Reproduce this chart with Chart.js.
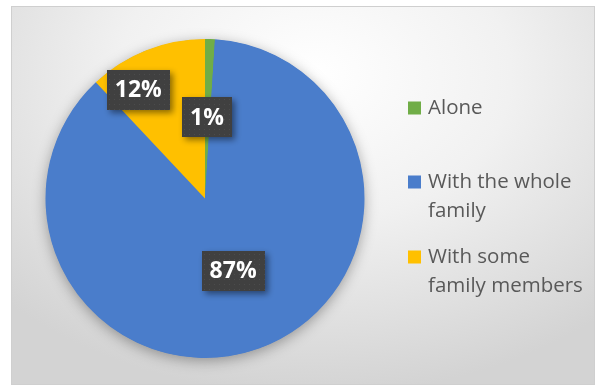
<!DOCTYPE html>
<html>
<head>
<meta charset="utf-8">
<script src="https://cdn.jsdelivr.net/npm/chart.js@4.4.1/dist/chart.umd.min.js"></script>
<style>
    html, body { margin: 0; padding: 0; background: #ffffff; }
    #quadro {
        position: absolute;
        left: 11px;
        top: 6px;
        width: 582px;
        height: 377px;
        border: 1px solid #cfcfcf;
        background: radial-gradient(ellipse 75% 85% at 52% 18%, #ffffff 0%, #f1f1f1 45%, #d3d3d3 100%);
    }
</style>
</head>
<body>
<div id="quadro"><canvas id="grafico"></canvas></div>
<script>
// Categorias (linhas da legenda), percentuais e cores das fatias
const categorias = [['Alone'], ['With the whole', 'family'], ['With some', 'family members']];
const percentuais = [1, 87, 12];
const cores = ['#70AD47', '#4A7DCB', '#FFC000'];

// Onde cada rótulo fica: giro a partir do meio da fatia e fração do raio
const posRotulos = [
    { giro: -0.4 * Math.PI / 180, dist: 0.51 },
    { giro: -1.5 * Math.PI / 180, dist: 0.485 },
    { giro: -9.9 * Math.PI / 180, dist: 0.80 }
];

const fonteLegenda = '20.5px "Open Sans", sans-serif';
const fonteRotulo = 'bold 23px "Open Sans", sans-serif';

// Textura pontilhada das caixas dos rótulos
function criarPadrao(ctx) {
    const tile = document.createElement('canvas');
    tile.width = 5;
    tile.height = 5;
    const t = tile.getContext('2d');
    t.fillStyle = '#404040';
    t.fillRect(0, 0, 5, 5);
    t.fillStyle = '#4c4c4c';
    t.fillRect(2, 2, 1, 1);
    return ctx.createPattern(tile, 'repeat');
}

// Sombra suave por baixo da pizza inteira
const sombraPizza = {
    id: 'sombraPizza',
    beforeDatasetsDraw(chart) {
        const arco = chart.getDatasetMeta(0).data[0];
        if (!arco) return;
        const { x, y, outerRadius } = arco.getProps(['x', 'y', 'outerRadius'], true);
        const ctx = chart.ctx;
        ctx.save();
        ctx.shadowColor = 'rgba(0, 0, 0, 0.35)';
        ctx.shadowBlur = 14;
        ctx.shadowOffsetY = 3;
        ctx.fillStyle = cores[1];
        ctx.beginPath();
        ctx.arc(x, y, outerRadius - 0.5, 0, Math.PI * 2);
        ctx.fill();
        ctx.restore();
    }
};

// Rótulos de porcentagem em caixas escuras
const rotulos = {
    id: 'rotulos',
    afterDatasetsDraw(chart) {
        const ctx = chart.ctx;
        const padrao = criarPadrao(ctx);
        chart.getDatasetMeta(0).data.forEach((arco, i) => {
            const { x, y, startAngle, endAngle, outerRadius } =
                arco.getProps(['x', 'y', 'startAngle', 'endAngle', 'outerRadius'], true);
            const p = posRotulos[i];
            const ang = (startAngle + endAngle) / 2 + p.giro;
            const cx = x + Math.cos(ang) * outerRadius * p.dist;
            const cy = y + Math.sin(ang) * outerRadius * p.dist;
            const texto = percentuais[i] + '%';

            ctx.save();
            ctx.font = fonteRotulo;
            const larg = ctx.measureText(texto).width + 16;
            const alt = 40;
            ctx.shadowColor = 'rgba(0, 0, 0, 0.45)';
            ctx.shadowBlur = 6;
            ctx.shadowOffsetX = 3;
            ctx.shadowOffsetY = 3;
            ctx.fillStyle = padrao;
            ctx.fillRect(Math.round(cx - larg / 2), Math.round(cy - alt / 2), Math.round(larg), alt);
            ctx.shadowColor = 'transparent';
            ctx.fillStyle = '#ffffff';
            ctx.textAlign = 'center';
            ctx.textBaseline = 'middle';
            ctx.fillText(texto, cx, cy + 1);
            ctx.restore();
        });
    }
};

// Legenda à direita, com textos em mais de uma linha
const legenda = {
    id: 'legenda',
    afterDraw(chart) {
        const ctx = chart.ctx;
        const xMarca = 396, xTexto = 416;
        const yItens = [101, 175, 250];
        const entrelinha = 29;
        ctx.save();
        ctx.font = fonteLegenda;
        ctx.textBaseline = 'middle';
        categorias.forEach((linhas, i) => {
            ctx.fillStyle = cores[i];
            ctx.fillRect(xMarca, yItens[i] - 6.5, 13, 13);
            ctx.fillStyle = '#595959';
            linhas.forEach((linha, j) => {
                ctx.fillText(linha, xTexto, yItens[i] + j * entrelinha);
            });
        });
        ctx.restore();
    }
};

new Chart(document.getElementById('grafico'), {
    type: 'pie',
    data: {
        labels: categorias.map(l => l.join(' ')),
        datasets: [{
            data: percentuais,
            backgroundColor: cores,
            borderWidth: 0
        }]
    },
    options: {
        responsive: true,
        maintainAspectRatio: false,
        animation: false,
        layout: {
            padding: { left: 33, top: 32, right: 229, bottom: 26 }
        },
        plugins: {
            legend: { display: false },
            tooltip: { enabled: false }
        }
    },
    plugins: [sombraPizza, rotulos, legenda]
});
</script>
</body>
</html>
